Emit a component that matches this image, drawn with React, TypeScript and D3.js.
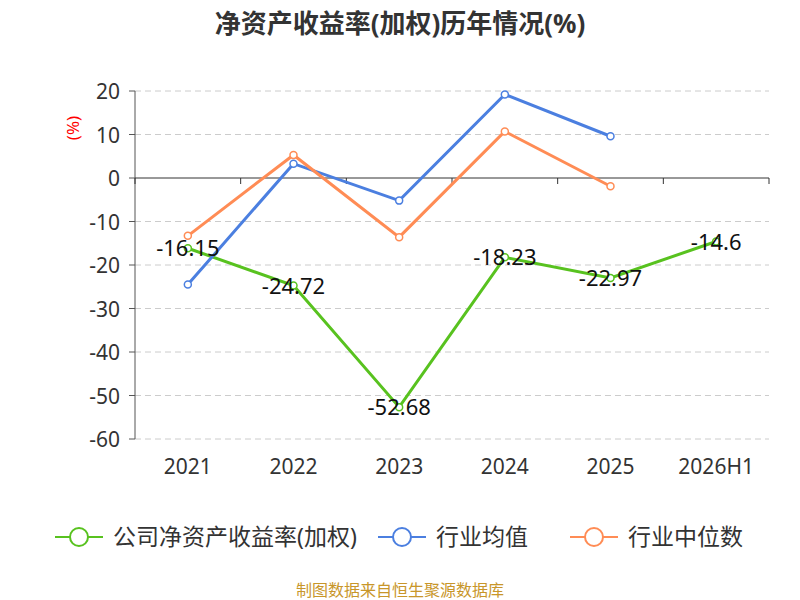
import React from "react";
import * as d3 from "d3";

const categories = ["2021", "2022", "2023", "2024", "2025", "2026H1"];
const company = [-16.15, -24.72, -52.68, -18.23, -22.97, -14.6];
const industryMean = [-24.5, 3.3, -5.2, 19.2, 9.6];
const industryMedian = [-13.3, 5.3, -13.6, 10.7, -1.9];
const yTicks = [20, 10, 0, -10, -20, -30, -40, -50, -60];

export default function App() {
  const x = d3.scaleBand<string>().domain(categories).range([135, 769]);
  const y = d3.scaleLinear().domain([-60, 20]).range([439, 91]);
  const cx = (c: string) => (x(c) as number) + x.bandwidth() / 2;
  const line = (vals: number[]) =>
    d3.line<number>().x((_, i) => cx(categories[i])).y((v) => y(v))(vals) as string;
  const font = "'Noto Sans', 'Noto Sans CJK SC', sans-serif";
  const series = [
    { name: "公司净资产收益率(加权)", vals: company, color: "#58c21f" },
    { name: "行业均值", vals: industryMean, color: "#4b7fe0" },
    { name: "行业中位数", vals: industryMedian, color: "#ff8c55" },
  ];
  const legendX = [55, 378, 570];
  return (
    <svg width={800} height={600} style={{ position: "absolute", left: 0, top: 0, fontFamily: font }}>
      <text x={400} y={33} textAnchor="middle" fontSize={26} fontWeight="bold" fill="#333">净资产收益率(加权)历年情况(%)</text>
      <text x={79} y={128} fontSize={17} fill="red" transform="rotate(-90 79 128)" textAnchor="middle">(%)</text>
      {yTicks.map((t) => (
        <g key={t}>
          {t !== 0 && <line x1={135} x2={769} y1={y(t)} y2={y(t)} stroke="#ccc" strokeDasharray="6,4" />}
          <line x1={129} x2={135} y1={y(t)} y2={y(t)} stroke="#555" />
          <text x={120} y={y(t) + 8} textAnchor="end" fontSize={21} fill="#333">{t}</text>
        </g>
      ))}
      <line x1={135} x2={135} y1={91} y2={439} stroke="#555" />
      <line x1={135} x2={769} y1={y(0)} y2={y(0)} stroke="#333" />
      {categories.map((c, i) => (
        <g key={c}>
          <line x1={(x(c) as number) + x.bandwidth()} x2={(x(c) as number) + x.bandwidth()} y1={y(0)} y2={y(0) + 6} stroke="#333" />
          {i === 0 && <line x1={135} x2={135} y1={y(0)} y2={y(0) + 6} stroke="#333" />}
          <text x={cx(c)} y={474} textAnchor="middle" fontSize={21} fill="#333">{c}</text>
        </g>
      ))}
      {series.map((s) => (
        <g key={s.name}>
          <path d={line(s.vals)} fill="none" stroke={s.color} strokeWidth={3} />
          {s.vals.map((v, i) => (
            <circle key={i} cx={cx(categories[i])} cy={y(v)} r={3.5} fill="#fff" stroke={s.color} strokeWidth={1.5} />
          ))}
        </g>
      ))}
      {company.map((v, i) => (
        <text key={i} x={cx(categories[i])} y={y(v) + 8} textAnchor="middle" fontSize={22} fill="#111">{v}</text>
      ))}
      {series.map((s, i) => (
        <g key={s.name}>
          <line x1={legendX[i]} x2={legendX[i] + 48} y1={537} y2={537} stroke={s.color} strokeWidth={2} />
          <circle cx={legendX[i] + 24} cy={537} r={9} fill="#fff" stroke={s.color} strokeWidth={2} />
          <text x={legendX[i] + 58} y={545} fontSize={23} fill="#333">{s.name}</text>
        </g>
      ))}
      <text x={400} y={596} textAnchor="middle" fontSize={16} fill="#c8962a">制图数据来自恒生聚源数据库</text>
    </svg>
  );
}
